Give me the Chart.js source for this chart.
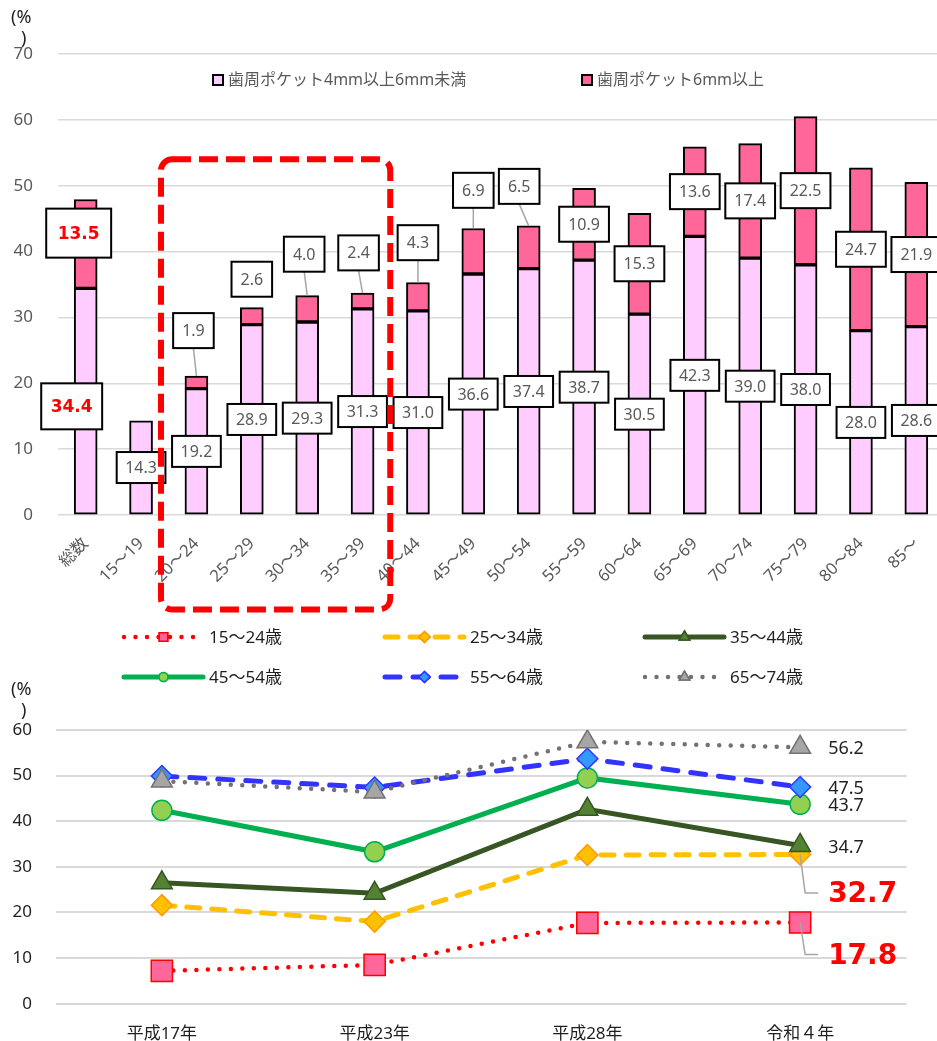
<!DOCTYPE html>
<html lang="ja">
<head>
<meta charset="utf-8">
<title>歯周ポケットを有する者の割合</title>
<script src="https://cdn.jsdelivr.net/npm/chart.js@4/dist/chart.umd.min.js"></script>
<style>
  html, body { margin: 0; padding: 0; background: #fff; overflow: hidden; width: 937px; height: 1041px; }
  #c1 { position: absolute; left: 0; top: 0; }
  #c2 { position: absolute; left: 0; top: 620px; }
</style>
</head>
<body>
<canvas id="c1" width="950" height="620"></canvas>
<canvas id="c2" width="937" height="421"></canvas>
<script>
// ---- 年齢階級別 歯周ポケットの状況 ----
const ageGroups = ['総数', '15～19', '20～24', '25～29', '30～34', '35～39', '40～44', '45～49',
                   '50～54', '55～59', '60～64', '65～69', '70～74', '75～79', '80～84', '85～'];
const pocket4to6 = [34.4, 14.3, 19.2, 28.9, 29.3, 31.3, 31.0, 36.6, 37.4, 38.7, 30.5, 42.3, 39.0, 38.0, 28.0, 28.6];
const pocket6up  = [13.5, null, 1.9, 2.6, 4.0, 2.4, 4.3, 6.9, 6.5, 10.9, 15.3, 13.6, 17.4, 22.5, 24.7, 21.9];
const barSeriesNames = ['歯周ポケット4mm以上6mm未満', '歯周ポケット6mm以上'];

// 重なりを避けるため位置をずらすラベル（値 % の高さに配置、横方向は px）
const upperLabelAt = { 0: 42.8, 2: 28.0, 3: 35.8, 4: 39.6, 5: 39.8, 6: 41.35, 7: 49.3, 8: 49.9 };
const upperLabelDx = { 0: -7, 2: -3, 4: -3, 5: -4, 8: -9.5 };
const lowerLabelAt = { 0: 16.5 };
const lowerLabelDx = { 0: -14 };

// ---- 4mm以上の歯周ポケットを有する者の割合の年次推移 ----
const surveyYears = ['平成17年', '平成23年', '平成28年', '令和４年'];
const lineNames = ['15～24歳', '25～34歳', '35～44歳', '45～54歳', '55～64歳', '65～74歳'];
const age15to24 = [7.2, 8.5, 17.7, 17.8];
const age25to34 = [21.6, 18.0, 32.6, 32.7];
const age35to44 = [26.5, 24.2, 42.6, 34.7];
const age45to54 = [42.4, 33.3, 49.5, 43.7];
const age55to64 = [49.9, 47.4, 53.7, 47.5];
const age65to74 = [48.8, 46.4, 57.4, 56.2];

const FONT = "'Noto Sans', 'Noto Sans CJK JP', sans-serif";
const GRAY_TEXT = '#595959';
const DARK_TEXT = '#1f1f1f';
const GRID = '#D9D9D9';

// ---------- helpers ----------
function boxLabel(ctx, text, cx, cy, st) {
  ctx.save();
  ctx.font = st.font;
  const w = ctx.measureText(text).width + st.padX * 2;
  const h = st.h;
  ctx.fillStyle = '#fff';
  ctx.fillRect(cx - w / 2, cy - h / 2, w, h);
  ctx.lineWidth = 2;
  ctx.strokeStyle = '#000';
  ctx.strokeRect(cx - w / 2, cy - h / 2, w, h);
  ctx.fillStyle = st.color;
  ctx.textAlign = 'center';
  ctx.textBaseline = 'middle';
  ctx.fillText(text, cx, cy + 1);
  ctx.restore();
}

const lowerStyle = { font: `16px ${FONT}`, padX: 8.5, h: 31, color: GRAY_TEXT };
const upperStyle = { font: `16px ${FONT}`, padX: 9, h: 35, color: GRAY_TEXT };
const totalLowerStyle = { font: "bold 17px 'DejaVu Sans', sans-serif", padX: 9.5, h: 46, color: '#FF0000' };
const totalUpperStyle = { font: "bold 17px 'DejaVu Sans', sans-serif", padX: 11.5, h: 49, color: '#FF0000' };

// 積み上げ棒のデータラベル（白地・黒枠）
const barLabelPlugin = {
  id: 'barLabels',
  afterDatasetsDraw(chart) {
    const ctx = chart.ctx;
    const ys = chart.scales.y;
    chart.data.datasets.forEach((ds, di) => {
      const meta = chart.getDatasetMeta(di);
      meta.data.forEach((bar, i) => {
        const v = ds.data[i];
        if (v == null) return;
        const p = bar.getProps(['x', 'y', 'base'], true);
        const at = di === 0 ? lowerLabelAt[i] : upperLabelAt[i];
        const dx = (di === 0 ? lowerLabelDx[i] : upperLabelDx[i]) || 0;
        const cy = at != null ? ys.getPixelForValue(at) : (p.y + p.base) / 2;
        const cx = p.x + dx;
        const st = i === 0 ? (di === 0 ? totalLowerStyle : totalUpperStyle) : (di === 0 ? lowerStyle : upperStyle);
        if (di === 1 && at != null) {
          const bottom = cy + st.h / 2;
          if (p.y - bottom > 15) {
            ctx.save();
            ctx.strokeStyle = '#A6A6A6';
            ctx.lineWidth = 1.5;
            ctx.beginPath();
            ctx.moveTo(cx, bottom);
            ctx.lineTo(p.x, p.y);
            ctx.stroke();
            ctx.restore();
          }
        }
        boxLabel(ctx, v.toFixed(1), cx, cy, st);
      });
    });
  }
};

// 20～39歳を囲む赤い破線枠
const highlightPlugin = {
  id: 'highlight',
  afterDraw(chart) {
    const xs = chart.scales.x, ys = chart.scales.y;
    const cw = xs.getPixelForValue(1) - xs.getPixelForValue(0);
    const l = xs.getPixelForValue(2) - 0.64 * cw;
    const r = xs.getPixelForValue(5) + 0.5 * cw;
    const t = ys.getPixelForValue(54);
    const b = chart.chartArea.bottom + 94.5;
    const rad = 11;
    const ctx = chart.ctx;
    ctx.save();
    ctx.strokeStyle = '#FF0000';
    ctx.lineWidth = 6;
    ctx.setLineDash([19, 8]);
    ctx.beginPath();
    ctx.moveTo(l + rad, t);
    ctx.lineTo(r - rad, t);
    ctx.arcTo(r, t, r, t + rad, rad);
    ctx.lineTo(r, b - rad);
    ctx.arcTo(r, b, r - rad, b, rad);
    ctx.lineTo(l + rad, b);
    ctx.arcTo(l, b, l, b - rad, rad);
    ctx.lineTo(l, t + rad);
    ctx.arcTo(l, t, l + rad, t, rad);
    ctx.closePath();
    ctx.stroke();
    ctx.restore();
  }
};

// 凡例と単位表示（上段）
const topDecorPlugin = {
  id: 'topDecor',
  afterDraw(chart) {
    const ctx = chart.ctx;
    ctx.save();
    ctx.font = `16px ${FONT}`;
    ctx.textBaseline = 'middle';
    ctx.textAlign = 'left';
    const starts = [213, 582];
    chart.data.datasets.forEach((ds, i) => {
      const x = starts[i], y = 80;
      ctx.fillStyle = ds.backgroundColor;
      ctx.fillRect(x, y - 5, 10, 10);
      ctx.lineWidth = 2;
      ctx.strokeStyle = '#000';
      ctx.strokeRect(x, y - 5, 10, 10);
      ctx.fillStyle = GRAY_TEXT;
      ctx.fillText(ds.label, x + 15, y);
    });
    ctx.font = `18px ${FONT}`;
    ctx.fillStyle = DARK_TEXT;
    ctx.fillText('(%', 11, 18);
    ctx.fillText(')', 21, 39);
    ctx.restore();
  }
};

new Chart(document.getElementById('c1'), {
  type: 'bar',
  data: {
    labels: ageGroups,
    datasets: [
      { label: barSeriesNames[0], data: pocket4to6, backgroundColor: '#FFCCFF', borderColor: '#000', borderWidth: 2, borderSkipped: false, barThickness: 23 },
      { label: barSeriesNames[1], data: pocket6up,  backgroundColor: '#FF6699', borderColor: '#000', borderWidth: 2, borderSkipped: false, barThickness: 23 }
    ]
  },
  options: {
    responsive: false,
    animation: false,
    events: [],
    layout: { padding: { top: 54, right: 6, left: 0, bottom: 0 } },
    plugins: { legend: { display: false }, tooltip: { enabled: false } },
    scales: {
      x: {
        stacked: true,
        grid: { display: false },
        border: { display: false },
        ticks: { autoSkip: false, minRotation: 45, maxRotation: 45, padding: 11, color: GRAY_TEXT, font: { family: FONT, size: 16.5 } },
        afterFit(s) { s.height = 105; }
      },
      y: {
        stacked: true,
        min: 0, max: 70,
        border: { display: false },
        grid: { color: GRID, lineWidth: 1.5, drawTicks: false },
        ticks: { stepSize: 10, padding: 25, color: GRAY_TEXT, font: { family: FONT, size: 17 } },
        afterFit(s) { s.width = 58; }
      }
    }
  },
  plugins: [barLabelPlugin, highlightPlugin, topDecorPlugin]
});

// ---------- 下段：折れ線 ----------
const lineStyles = [
  { data: age15to24, color: '#FF0000', width: 4.5, dash: [0, 11.5], point: 'rect',    r: 15,   fill: '#FF6699', edge: '#FF0000', lr: 6 },
  { data: age25to34, color: '#FFC000', width: 5,   dash: [13, 12],  point: 'rectRot', r: 10.5, fill: '#FFC000', edge: '#FF9900', lr: 5.5 },
  { data: age35to44, color: '#375623', width: 5,   dash: [],        point: 'triangle',r: 12,   fill: '#548235', edge: '#375623', lr: 6 },
  { data: age45to54, color: '#00B050', width: 5,   dash: [],        point: 'circle',  r: 10,   fill: '#92D050', edge: '#00B050', lr: 4.5 },
  { data: age55to64, color: '#3333FF', width: 5,   dash: [15, 13],  point: 'rectRot', r: 10.5, fill: '#3399FF', edge: '#3333FF', lr: 5.5 },
  { data: age65to74, color: '#767171', width: 4.5, dash: [0, 11.5], point: 'triangle',r: 12,   fill: '#A6A6A6', edge: '#767171', lr: 6 }
];

function drawMarker(ctx, s, x, y, radius) {
  ctx.save();
  ctx.fillStyle = s.fill;
  ctx.strokeStyle = s.edge;
  ctx.lineWidth = 1.5;
  ctx.setLineDash([]);
  if (Chart.helpers && Chart.helpers.drawPoint) {
    Chart.helpers.drawPoint(ctx, { pointStyle: s.point, radius: radius, rotation: 0, borderWidth: 1.5 }, x, y);
    ctx.fill();
    ctx.stroke();
  }
  ctx.restore();
}

// 凡例（3列×2行）と単位表示（下段）
const bottomDecorPlugin = {
  id: 'bottomDecor',
  afterDraw(chart) {
    const ctx = chart.ctx;
    const cols = [124, 385, 645];
    const rows = [17, 57];
    lineStyles.forEach((s, i) => {
      const x = cols[i % 3], y = rows[Math.floor(i / 3)];
      ctx.save();
      ctx.strokeStyle = s.color;
      ctx.lineWidth = s.width;
      ctx.lineCap = 'round';
      ctx.setLineDash(s.dash);
      ctx.beginPath();
      ctx.moveTo(x, y);
      ctx.lineTo(x + 79, y);
      ctx.stroke();
      ctx.restore();
      drawMarker(ctx, s, x + 39.5, y, s.lr);
      ctx.save();
      ctx.font = `17px ${FONT}`;
      ctx.fillStyle = DARK_TEXT;
      ctx.textBaseline = 'middle';
      ctx.textAlign = 'left';
      ctx.fillText(lineNames[i], x + 85, y + 1);
      ctx.restore();
    });
    ctx.save();
    ctx.font = `18px ${FONT}`;
    ctx.fillStyle = DARK_TEXT;
    ctx.textBaseline = 'middle';
    ctx.fillText('(%', 11, 70);
    ctx.fillText(')', 21, 91);
    ctx.restore();
  }
};

// 令和４年の値ラベル
const endLabelPlugin = {
  id: 'endLabels',
  afterDatasetsDraw(chart) {
    const ctx = chart.ctx;
    chart.data.datasets.forEach((ds, di) => {
      const meta = chart.getDatasetMeta(di);
      const last = ds.data.length - 1;
      const pt = meta.data[last].getProps(['x', 'y'], true);
      const text = ds.data[last].toFixed(1);
      ctx.save();
      if (di <= 1) {
        const cy = pt.y + (di === 0 ? 32 : 38.5);
        ctx.strokeStyle = '#A6A6A6';
        ctx.lineWidth = 1.5;
        ctx.beginPath();
        ctx.moveTo(pt.x, pt.y);
        ctx.lineTo(pt.x + 5, cy);
        ctx.lineTo(pt.x + 18, cy);
        ctx.stroke();
        ctx.font = "bold 28px 'DejaVu Sans', sans-serif";
        ctx.fillStyle = '#FF0000';
        ctx.textBaseline = 'middle';
        ctx.fillText(text, pt.x + 28, cy + 2);
      } else {
        ctx.font = `18px ${FONT}`;
        ctx.fillStyle = DARK_TEXT;
        ctx.textBaseline = 'middle';
        ctx.fillText(text, pt.x + 28, pt.y + 2);
      }
      ctx.restore();
    });
  }
};

new Chart(document.getElementById('c2'), {
  type: 'line',
  data: {
    labels: surveyYears,
    datasets: lineStyles.map((s, i) => ({
      label: lineNames[i],
      data: s.data,
      order: lineStyles.length - i,
      borderColor: s.color,
      borderWidth: s.width,
      borderDash: s.dash,
      borderCapStyle: 'round',
      fill: false,
      tension: 0,
      pointStyle: s.point,
      pointRadius: s.r,
      pointBackgroundColor: s.fill,
      pointBorderColor: s.edge,
      pointBorderWidth: 1.5
    }))
  },
  options: {
    responsive: false,
    animation: false,
    events: [],
    layout: { padding: { top: 110, right: 30.5, left: 0, bottom: 0 } },
    plugins: { legend: { display: false }, tooltip: { enabled: false } },
    scales: {
      x: {
        offset: true,
        grid: { display: false },
        border: { display: false },
        ticks: { padding: 12, color: DARK_TEXT, font: { family: FONT, size: 17 } },
        afterFit(s) { s.height = 37.3; }
      },
      y: {
        min: 0, max: 60,
        border: { display: false },
        grid: { color: GRID, lineWidth: 2, drawTicks: false },
        ticks: { stepSize: 10, padding: 23.5, color: DARK_TEXT, font: { family: FONT, size: 17 } },
        afterFit(s) { s.width = 55.5; }
      }
    }
  },
  plugins: [endLabelPlugin, bottomDecorPlugin]
});
</script>
</body>
</html>
